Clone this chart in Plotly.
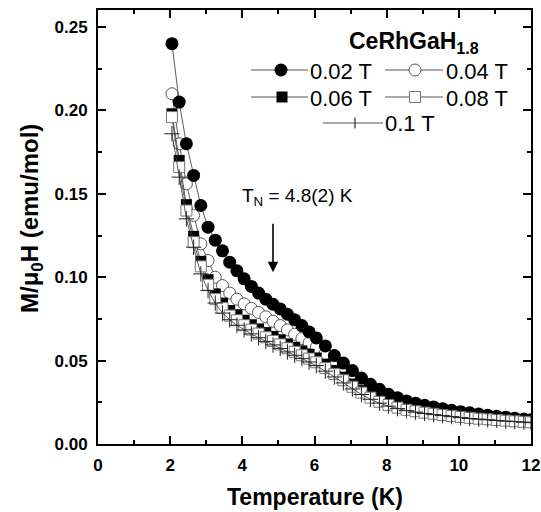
import plotly.graph_objects as go

# ---------------- data ----------------
temps = [2.05, 2.25, 2.45, 2.65, 2.85, 3.05, 3.25, 3.45, 3.65, 3.85,
         4.05, 4.25, 4.45, 4.65, 4.85, 5.05, 5.25, 5.45, 5.65, 5.85,
         6.05, 6.3, 6.55, 6.8, 7.05, 7.3, 7.55, 7.8, 8.05, 8.3,
         8.55, 8.8, 9.05, 9.3, 9.55, 9.8, 10.05, 10.3, 10.55, 10.8,
         11.05, 11.3, 11.55, 11.8, 12.0]

m_002 = [0.240, 0.205, 0.180, 0.161, 0.143, 0.130, 0.1222, 0.1158, 0.1090, 0.1038,
         0.0990, 0.0945, 0.0905, 0.0868, 0.0838, 0.0810, 0.0778, 0.0745, 0.0710, 0.0672,
         0.0636, 0.0588, 0.0530, 0.0485, 0.0440, 0.0395, 0.0358, 0.0328, 0.0298, 0.0278,
         0.0258, 0.0245, 0.0232, 0.0222, 0.0212, 0.0202, 0.0194, 0.0187, 0.0180, 0.0173,
         0.0167, 0.0161, 0.0155, 0.0150, 0.0146]

m_004 = [0.210, 0.180, 0.156, 0.137, 0.1200, 0.1100, 0.1000, 0.0950, 0.0905, 0.0868,
         0.0840, 0.0813, 0.0789, 0.0763, 0.0736, 0.0710, 0.0684, 0.0658, 0.0632, 0.0606,
         0.0580, 0.0545, 0.0505, 0.0465, 0.0425, 0.0388, 0.0352, 0.0322, 0.0295, 0.0270,
         0.0251, 0.0236, 0.0223, 0.0212, 0.0202, 0.0193, 0.0185, 0.0178, 0.0171, 0.0165,
         0.0159, 0.0153, 0.0148, 0.0143, 0.0140]

m_006 = [0.198, 0.170, 0.1435, 0.1245, 0.1095, 0.0985, 0.0900, 0.0845, 0.0800, 0.0775,
         0.0742, 0.0715, 0.0690, 0.0668, 0.0645, 0.0625, 0.0600, 0.0580, 0.0558, 0.0538,
         0.0515, 0.0477, 0.0440, 0.0400, 0.0358, 0.0320, 0.0290, 0.0265, 0.0245, 0.0230,
         0.0218, 0.0207, 0.0198, 0.0190, 0.0182, 0.0175, 0.0168, 0.0162, 0.0157, 0.0152,
         0.0147, 0.0143, 0.0139, 0.0135, 0.0132]

m_008 = [0.196, 0.166, 0.140, 0.121, 0.1065, 0.0955, 0.0870, 0.0815, 0.0770, 0.0742,
         0.0712, 0.0686, 0.0662, 0.0640, 0.0618, 0.0597, 0.0574, 0.0553, 0.0532, 0.0512,
         0.0490, 0.0455, 0.0420, 0.0382, 0.0343, 0.0308, 0.0278, 0.0253, 0.0234, 0.0218,
         0.0205, 0.0196, 0.0188, 0.0181, 0.0174, 0.0168, 0.0162, 0.0157, 0.0152, 0.0148,
         0.0144, 0.0140, 0.0136, 0.0133, 0.0130]

m_010 = [0.186, 0.160, 0.135, 0.118, 0.1020, 0.0920, 0.0845, 0.0785, 0.0745, 0.0712,
         0.0684, 0.0660, 0.0637, 0.0615, 0.0594, 0.0573, 0.0552, 0.0532, 0.0512, 0.0492,
         0.0470, 0.0437, 0.0402, 0.0366, 0.0330, 0.0297, 0.0268, 0.0245, 0.0227, 0.0212,
         0.0200, 0.0191, 0.0183, 0.0176, 0.0170, 0.0164, 0.0158, 0.0153, 0.0149, 0.0145,
         0.0141, 0.0137, 0.0134, 0.0131, 0.0128]

field_labels = ["0.02 T", "0.04 T", "0.06 T", "0.08 T", "0.1 T"]
x_ticks = [0, 2, 4, 6, 8, 10, 12]
y_ticks = [0.00, 0.05, 0.10, 0.15, 0.20, 0.25]

FONT = "Liberation Sans, Arial, sans-serif"
LINEC = "#333333"
W, H = 541, 512
L, R, T, B = 98, 10, 10, 68


def px(xp):
    return (xp - L) / (W - L - R)


def py(yp):
    return (H - B - yp) / (H - B - T)


styles = {
    "0.02 T": dict(symbol="circle", size=13, color="black", line=dict(width=0, color="black")),
    "0.04 T": dict(symbol="circle", size=12, color="white", line=dict(width=1, color="#555555")),
    "0.06 T": dict(symbol="square", size=11, color="black", line=dict(width=0, color="black")),
    "0.08 T": dict(symbol="square", size=11, color="white", line=dict(width=1, color="#777777")),
    "0.1 T": dict(symbol="cross-thin", size=11, color="black", line=dict(width=1, color="#222222")),
}
series = {"0.02 T": m_002, "0.04 T": m_004, "0.06 T": m_006, "0.08 T": m_008, "0.1 T": m_010}
draw_order = ["0.04 T", "0.02 T", "0.06 T", "0.08 T", "0.1 T"]

fig = go.Figure()
for lab in draw_order:
    fig.add_trace(go.Scatter(
        x=temps, y=series[lab], mode="lines+markers", name=lab,
        line=dict(color=LINEC, width=0.8), marker=styles[lab],
        showlegend=False))

# ---------------- hand-built legend (paper coordinates, pixel-sized symbols) ----------------
legend_items = [
    ("0.02 T", 251, 308, 281, 70, 308),
    ("0.04 T", 385, 443, 415, 70, 444),
    ("0.06 T", 251, 308, 282, 97, 308),
    ("0.08 T", 385, 443, 415, 97, 444),
    ("0.1 T", 323, 383, 355, 123, 383),
]
shapes = []
for lab, x0, x1, xm, yy, xt in legend_items:
    shapes.append(dict(type="line", xref="paper", yref="paper",
                       x0=px(x0), x1=px(x1), y0=py(yy), y1=py(yy),
                       line=dict(color="#555555", width=1)))
    st = styles[lab]
    s = st["size"]
    common = dict(xref="paper", yref="paper", xsizemode="pixel", ysizemode="pixel",
                  xanchor=px(xm), yanchor=py(yy))
    if st["symbol"] == "circle":
        shapes.append(dict(type="circle", x0=-s / 2, x1=s / 2, y0=-s / 2, y1=s / 2,
                           fillcolor=st["color"],
                           line=dict(color=st["line"]["color"], width=max(st["line"]["width"], 0.01)),
                           **common))
    elif st["symbol"] == "square":
        shapes.append(dict(type="rect", x0=-s / 2, x1=s / 2, y0=-s / 2, y1=s / 2,
                           fillcolor=st["color"],
                           line=dict(color=st["line"]["color"], width=max(st["line"]["width"], 0.01)),
                           **common))
    else:
        shapes.append(dict(type="line", x0=0, x1=0, y0=-s / 2, y1=s / 2,
                           line=dict(color="black", width=1), **common))
    fig.add_annotation(x=px(xt), y=py(yy + 1), xref="paper", yref="paper", text=lab,
                       showarrow=False, xanchor="left", yanchor="middle",
                       font=dict(family=FONT, size=22, color="black"))

fig.add_annotation(x=px(347), y=py(43), xref="paper", yref="paper",
                   text="<b>CeRhGaH<sub>1.8</sub></b>", showarrow=False,
                   xanchor="left", yanchor="middle",
                   font=dict(family=FONT, size=23, color="black"))

# T_N annotation with arrow
fig.add_annotation(x=3.93, y=0.148, xref="x", yref="y",
                   text="T<sub>N</sub> = 4.8(2) K", showarrow=False,
                   xanchor="left", yanchor="middle",
                   font=dict(family=FONT, size=19, color="black"))
fig.add_annotation(x=4.85, y=0.103, ax=4.85, ay=0.133, xref="x", yref="y",
                   axref="x", ayref="y", text="", showarrow=True,
                   arrowhead=2, arrowsize=1.3, arrowwidth=1.6, arrowcolor="black")

# axis titles
fig.add_annotation(x=px(315), y=py(497), xref="paper", yref="paper",
                   text="<b>Temperature (K)</b>",
                   showarrow=False, xanchor="center", yanchor="middle",
                   font=dict(family=FONT, size=23, color="black"))
fig.add_annotation(x=px(31), y=py(219), xref="paper", yref="paper",
                   text="<b>M/μ<sub>0</sub>H (emu/mol)</b>", textangle=-90,
                   showarrow=False, xanchor="center", yanchor="middle",
                   font=dict(family=FONT, size=24, color="black"))

axis_common = dict(showline=True, linewidth=2, linecolor="black", mirror="allticks",
                   ticks="inside", ticklen=8, tickwidth=2, tickcolor="black",
                   showgrid=False, zeroline=False, automargin=False,
                   tickfont=dict(family=FONT, size=17, color="black", weight="bold"))

fig.update_layout(
    width=W, height=H, autosize=False,
    margin=dict(l=L, r=R, t=T, b=B, pad=0),
    paper_bgcolor="white", plot_bgcolor="white",
    showlegend=False,
    shapes=shapes,
    xaxis=dict(range=[0, 12], tickvals=x_ticks, ticktext=[str(v) for v in x_ticks],
               minor=dict(ticks="inside", ticklen=4, tickwidth=2, tickcolor="black", dtick=1),
               ticklabelstandoff=5, **axis_common),
    yaxis=dict(range=[0, 0.2602], tickvals=y_ticks, ticktext=[f"{v:.2f}" for v in y_ticks],
               minor=dict(ticks="inside", ticklen=4, tickwidth=2, tickcolor="black", dtick=0.025),
               ticklabelstandoff=5, **axis_common),
)

fig.write_html("out.html", config={"displayModeBar": False})
